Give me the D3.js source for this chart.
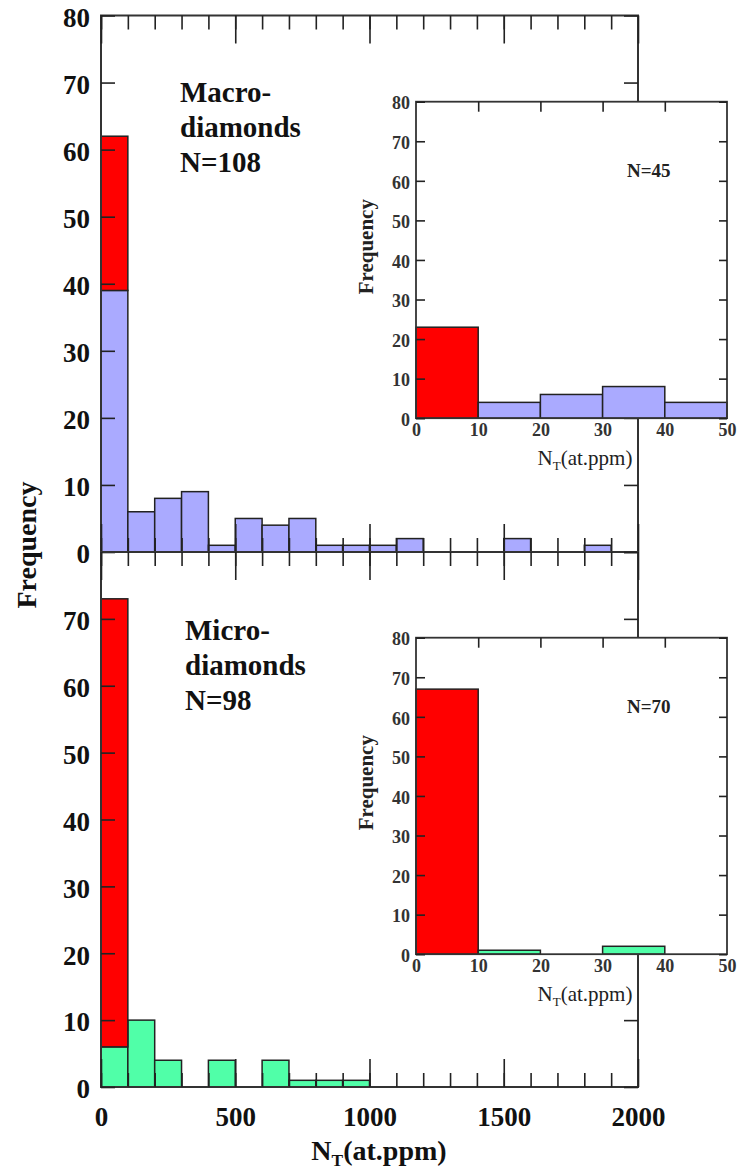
<!DOCTYPE html>
<html>
<head>
<meta charset="utf-8">
<script src="https://cdn.jsdelivr.net/npm/d3@7"></script>
<style>
  body { margin: 0; background: #fff; }
  svg { display: block; }
</style>
</head>
<body>
<svg></svg>
<script>

// bins of the two big histograms (at.ppm), each 100 wide
var binStarts = [0, 100, 200, 300, 400, 500, 600, 700, 800, 900, 1000, 1100, 1200, 1300, 1400, 1500, 1600, 1700, 1800, 1900]
var macroCounts = [39, 6, 8, 9, 1, 5, 4, 5, 1, 1, 1, 2, 0, 0, 0, 2, 0, 0, 1, 0]
var microCounts = [6, 10, 4, 0, 4, 0, 4, 1, 1, 1, 0, 0, 0, 0, 0, 0, 0, 0, 0, 0]
// red part = stones below 10 at.ppm, stacked on the first bin
var macroLow = 23
var microLow = 67

// insets: 0-50 at.ppm in 10 wide bins
var insetStarts = [0, 10, 20, 30, 40]
var macroInsetLow = [23, 0, 0, 0, 0]
var macroInsetRest = [0, 4, 6, 8, 4]
var microInsetLow = [67, 0, 0, 0, 0]
var microInsetRest = [0, 1, 0, 2, 0]

var mainXTicks = [0, 500, 1000, 1500, 2000]
var yTicks = [0, 10, 20, 30, 40, 50, 60, 70, 80]
var yTicksLower = [0, 10, 20, 30, 40, 50, 60, 70]
var insetXTicks = [0, 10, 20, 30, 40, 50]
var insetTopTicks = [10, 20, 30, 40]

var red = '#ff0000', blue = '#aaaaff', green = '#50ffa8'
var serif = '"Liberation Serif", "Times New Roman", serif'

var width = 741,
    height = 1172

var svg = d3.select('svg')
            .attr('width', width)
            .attr('height', height)
            .style('font-family', serif)

svg.append('rect').attr('width', width).attr('height', height).attr('fill', '#fff')

var x = d3.scaleLinear().domain([0, 2000]).range([101, 638])
var yTop = d3.scaleLinear().domain([0, 80]).range([552, 15.5])
var yBot = d3.scaleLinear().domain([0, 80]).range([1087, 552])

// turn counts into rect data
function toBars(starts, w, lower, upper) {
  var out = []
  for (var i = 0; i < starts.length; i++) {
    if (upper[i] > 0) out.push({x0: starts[i], x1: starts[i] + w, lo: lower[i], hi: lower[i] + upper[i]})
  }
  return out
}

function drawBars(g, data, xs, ys, fill) {
  g.selectAll(null)
    .data(data)
    .enter()
    .append('rect')
    .attr('x', (d) => xs(d.x0))
    .attr('width', (d) => xs(d.x1) - xs(d.x0))
    .attr('y', (d) => ys(d.hi))
    .attr('height', (d) => ys(d.lo) - ys(d.hi))
    .attr('fill', fill)
    .attr('stroke', '#222')
    .attr('stroke-width', 1.5)
}

function tidy(sel) {
  sel.select('.domain').remove()
  sel.selectAll('.tick line').attr('stroke', '#222').attr('stroke-width', 1.6)
}

// ---------- main panels ----------
function mainPanel(y, counts, low, fill, labelTicks, lines, textY, bottomLabels) {
  var g = svg.append('g')
  var zeros = counts.map(() => 0)

  drawBars(g, toBars(binStarts, 100, zeros, counts), x, y, fill)
  drawBars(g, [{x0: binStarts[0], x1: binStarts[1], lo: counts[0], hi: counts[0] + low}], x, y, red)

  g.append('rect')
    .attr('x', x(0)).attr('y', y(80))
    .attr('width', x(2000) - x(0)).attr('height', y(0) - y(80))
    .attr('fill', 'none').attr('stroke', '#333').attr('stroke-width', 2)

  // left ticks + labels
  g.append('g')
    .attr('transform', `translate(${x(0)},0)`)
    .call(d3.axisLeft(y).tickValues(labelTicks).tickSize(-14).tickPadding(11).tickFormat(d3.format('d')))
    .call(tidy)
    .selectAll('text')
    .attr('dy', '0.4em')
    .style('font-family', serif).style('font-size', '27px').style('font-weight', 'bold').attr('fill', '#111')

  // right ticks
  g.append('g')
    .attr('transform', `translate(${x(2000)},0)`)
    .call(d3.axisLeft(y).tickValues(yTicks).tickSize(14).tickFormat(''))
    .call(tidy)

  // top and bottom ticks, major and minor, all pointing inside
  var edges = [[d3.axisTop, y(80)], [d3.axisBottom, y(0)]]
  edges.forEach(function (e) {
    g.append('g')
      .attr('transform', `translate(0,${e[1]})`)
      .call(e[0](x).tickValues(binStarts).tickSize(-14).tickFormat(''))
      .call(tidy)
    var major = g.append('g')
      .attr('transform', `translate(0,${e[1]})`)
      .call(e[0](x).tickValues(mainXTicks).tickSize(-28).tickPadding(20)
        .tickFormat(bottomLabels && e[0] === d3.axisBottom ? d3.format('d') : ''))
      .call(tidy)
    major.selectAll('text')
      .style('font-family', serif).style('font-size', '27px').style('font-weight', 'bold').attr('fill', '#111')
  })

  // panel label
  var t = g.append('text')
    .attr('x', lines.x)
    .attr('y', textY)
    .style('font-size', '29px').style('font-weight', 'bold').attr('fill', '#111')
  lines.text.forEach(function (s, i) {
    t.append('tspan').attr('x', lines.x).attr('dy', i === 0 ? 0 : 35).text(s)
  })
}

mainPanel(yTop, macroCounts, macroLow, blue, yTicks, {x: 180, text: ['Macro-', 'diamonds', 'N=108']}, 101.5, false)
mainPanel(yBot, microCounts, microLow, green, yTicksLower, {x: 185, text: ['Micro-', 'diamonds', 'N=98']}, 640, true)

// main axis titles
svg.append('text')
  .attr('transform', 'translate(36,545) rotate(-90)')
  .attr('text-anchor', 'middle')
  .style('font-size', '28px').style('font-weight', 'bold').attr('fill', '#111')
  .text('Frequency')

function ntLabel(sel) {
  sel.append('tspan').text('N')
  sel.append('tspan').attr('font-size', '62%').attr('dy', '0.35em').text('T')
  sel.append('tspan').attr('dy', '-0.22em').text('(at.ppm)')
}

svg.append('text')
  .attr('x', 379).attr('y', 1160)
  .attr('text-anchor', 'middle')
  .style('font-size', '28px').style('font-weight', 'bold').attr('fill', '#111')
  .call(ntLabel)

// ---------- insets ----------
function inset(top, low, rest, fill, label) {
  var xi = d3.scaleLinear().domain([0, 50]).range([416, 727])
  var yi = d3.scaleLinear().domain([0, 80]).range([top + 316.5, top])
  var g = svg.append('g')

  g.append('rect')
    .attr('x', xi(0)).attr('y', yi(80))
    .attr('width', xi(50) - xi(0)).attr('height', yi(0) - yi(80))
    .attr('fill', '#fff')

  var zeros = insetStarts.map(() => 0)
  drawBars(g, toBars(insetStarts, 10, zeros, low), xi, yi, red)
  drawBars(g, toBars(insetStarts, 10, zeros, rest), xi, yi, fill)

  g.append('rect')
    .attr('x', xi(0)).attr('y', yi(80))
    .attr('width', xi(50) - xi(0)).attr('height', yi(0) - yi(80))
    .attr('fill', 'none').attr('stroke', '#333').attr('stroke-width', 1.8)

  g.append('g')
    .attr('transform', `translate(${xi(0)},0)`)
    .call(d3.axisLeft(yi).tickValues(yTicks).tickSize(-9).tickPadding(6).tickFormat(d3.format('d')))
    .call(tidy)
    .selectAll('text')
    .attr('dy', '0.4em')
    .style('font-family', serif).style('font-size', '18px').style('font-weight', 'bold').attr('fill', '#333')

  g.append('g')
    .attr('transform', `translate(${xi(50)},0)`)
    .call(d3.axisLeft(yi).tickValues(yTicks).tickSize(8).tickFormat(''))
    .call(tidy)

  g.append('g')
    .attr('transform', `translate(0,${yi(80)})`)
    .call(d3.axisTop(xi).tickValues(insetTopTicks).tickSize(-10).tickFormat(''))
    .call(tidy)

  g.append('g')
    .attr('transform', `translate(0,${yi(0)})`)
    .call(d3.axisBottom(xi).tickValues(insetXTicks).tickSize(0).tickPadding(5).tickFormat(d3.format('d')))
    .call(tidy)
    .selectAll('text')
    .style('font-family', serif).style('font-size', '18px').style('font-weight', 'bold').attr('fill', '#333')

  g.append('text')
    .attr('x', xi(0) + 211).attr('y', top + 75)
    .style('font-size', '19px').style('font-weight', 'bold').attr('fill', '#222')
    .text(label)

  g.append('text')
    .attr('transform', `translate(${xi(0) - 43},${top + 145}) rotate(-90)`)
    .attr('text-anchor', 'middle')
    .style('font-size', '21px').style('font-weight', 'bold').attr('fill', '#222')
    .text('Frequency')

  g.append('text')
    .attr('x', 585).attr('y', yi(0) + 47)
    .attr('text-anchor', 'middle')
    .style('font-size', '21px').attr('fill', '#222')
    .call(ntLabel)
}

inset(101.7, macroInsetLow, macroInsetRest, blue, 'N=45')
inset(637.7, microInsetLow, microInsetRest, green, 'N=70')

</script>
</body>
</html>
